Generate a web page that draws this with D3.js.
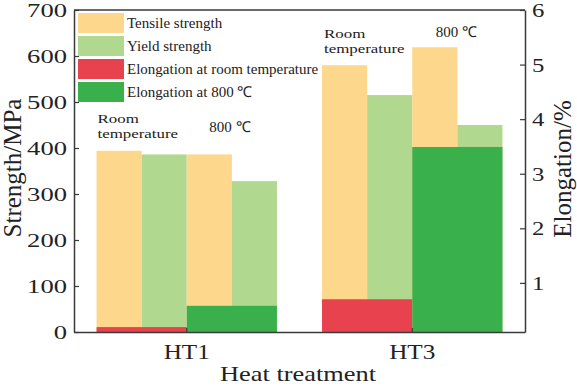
<!DOCTYPE html>
<html>
<head>
<meta charset="utf-8">
<script src="https://cdn.jsdelivr.net/npm/d3@7/dist/d3.min.js"></script>
<style>
  html, body { margin: 0; padding: 0; background: #fff; }
  svg { display: block; }
  text { font-family: "Liberation Serif", "Times New Roman", serif; fill: #222; }
</style>
</head>
<body>
<svg id="chart" width="577" height="386"></svg>
<script>
// ---- data ----
const categories = ["HT1", "HT3"];
const tensileRT = [394, 580];
const yieldRT = [386, 515];
const tensile800 = [386, 619];
const yield800 = [328, 450];
const elongRT = [0.19, 0.70];
const elong800 = [0.58, 3.49];
const leftTicks = [0, 100, 200, 300, 400, 500, 600, 700];
const rightTicks = [1, 2, 3, 4, 5, 6];
const legendLabels = ["Tensile strength", "Yield strength", "Elongation at room temperature", "Elongation at 800 \u2103"];
const colors = ["#FDD78B", "#B1D88F", "#E8424F", "#3AB04D"];

// ---- layout ----
const m = { left: 74, right: 525, top: 10, bottom: 332 };
const svg = d3.select("#chart");

const x = d3.scaleBand().domain(categories).range([m.left, m.right]).paddingInner(0.2).paddingOuter(0.1);
const sub = d3.scaleBand().domain(["tRT", "yRT", "t800", "y800"]).range([0, x.bandwidth()]).padding(0);
const yL = d3.scaleLinear().domain([0, 700]).range([m.bottom, m.top]);
const yR = d3.scaleLinear().domain([0.1, 6]).range([m.bottom, m.top]);

// strength bars
const strengthSeries = [
  { key: "tRT", vals: tensileRT, color: colors[0] },
  { key: "yRT", vals: yieldRT, color: colors[1] },
  { key: "t800", vals: tensile800, color: colors[0] },
  { key: "y800", vals: yield800, color: colors[1] }
];
strengthSeries.forEach(s => {
  svg.append("g").selectAll("rect").data(categories).join("rect")
    .attr("x", (c) => x(c) + sub(s.key))
    .attr("width", sub.bandwidth())
    .attr("y", (c, i) => yL(s.vals[i]))
    .attr("height", (c, i) => m.bottom - yL(s.vals[i]))
    .attr("fill", s.color);
});

// elongation bars
const elongSeries = [
  { start: "tRT", vals: elongRT, color: colors[2] },
  { start: "t800", vals: elong800, color: colors[3] }
];
elongSeries.forEach(s => {
  svg.append("g").selectAll("rect").data(categories).join("rect")
    .attr("x", (c) => x(c) + sub(s.start))
    .attr("width", sub.bandwidth() * 2)
    .attr("y", (c, i) => yR(s.vals[i]))
    .attr("height", (c, i) => m.bottom - yR(s.vals[i]))
    .attr("fill", s.color);
});

// frame
const axisColor = "#3a3a3a";
svg.append("line").attr("x1", m.left).attr("x2", m.right).attr("y1", m.top).attr("y2", m.top)
  .attr("stroke", axisColor).attr("stroke-width", 1.5);

// left axis
const gL = svg.append("g").attr("transform", `translate(${m.left},0)`)
  .call(d3.axisLeft(yL).tickValues(leftTicks).tickSizeInner(-5).tickSizeOuter(0).tickPadding(0));
gL.selectAll("text").attr("x", null).attr("dy", "0.34em")
  .attr("transform", "translate(-7,0) scale(1.4,1)")
  .style("font-size", "19px").attr("text-anchor", "end");

// right axis
const gR = svg.append("g").attr("transform", `translate(${m.right},0)`)
  .call(d3.axisRight(yR).tickValues(rightTicks).tickFormat(d3.format("d")).tickSizeInner(-5).tickSizeOuter(0).tickPadding(0));
gR.selectAll("text").attr("x", null).attr("dy", "0.34em")
  .attr("transform", "translate(7,0) scale(1.3,1)")
  .style("font-size", "19px").attr("text-anchor", "start");

// bottom axis
const gB = svg.append("g").attr("transform", `translate(0,${m.bottom})`)
  .call(d3.axisBottom(x).tickSizeInner(-4).tickSizeOuter(0).tickPadding(0));
gB.selectAll("text").attr("y", null).attr("dy", null)
  .attr("transform", "translate(0,27) scale(1.2,1)")
  .style("font-size", "21px").attr("text-anchor", "middle");

[gL, gR, gB].forEach(g => {
  g.select(".domain").attr("stroke", axisColor).attr("stroke-width", 1.5);
  g.selectAll(".tick line").attr("stroke", axisColor).attr("stroke-width", 1.2);
  g.selectAll("text").attr("fill", "#222").style("font-family", "'Liberation Serif', 'Times New Roman', serif");
});

// axis titles
svg.append("text").attr("transform", "translate(21,168) rotate(-90)")
  .attr("text-anchor", "middle").style("font-size", "25px").text("Strength/MPa");
svg.append("text").attr("transform", "translate(571,169) rotate(-90)")
  .attr("text-anchor", "middle").style("font-size", "25px").text("Elongation/%");
svg.append("text").attr("transform", "translate(298,381) scale(1.2,1)")
  .attr("text-anchor", "middle").style("font-size", "22px").text("Heat treatment");

// legend
const lg = svg.append("g");
legendLabels.forEach((t, i) => {
  const yy = 13 + i * 23;
  lg.append("rect").attr("x", 78).attr("y", yy).attr("width", 46).attr("height", 20).attr("fill", colors[i]);
  lg.append("text").attr("x", 127).attr("y", yy + 15).style("font-size", "15px").text(t);
});

// annotations
const ann = [
  { cat: "HT1", dx: 1, y1: 123, y800: 132 },
  { cat: "HT3", dx: 2, y1: 38, y800: 37 }
];
ann.forEach(a => {
  const bx = x(a.cat) + sub("tRT") + a.dx;
  svg.append("text").attr("transform", `translate(${bx},${a.y1}) scale(1.25,1)`)
    .style("font-size", "13.5px").text("Room");
  svg.append("text").attr("transform", `translate(${bx},${a.y1 + 15}) scale(1.25,1)`)
    .style("font-size", "13.5px").text("temperature");
  const cx = x(a.cat) + sub("t800") + sub.bandwidth() / 2 + (a.cat === "HT1" ? 0 : 1);
  svg.append("text").attr("x", cx).attr("y", a.y800).style("font-size", "15px").text("800 \u2103");
});
</script>
</body>
</html>
